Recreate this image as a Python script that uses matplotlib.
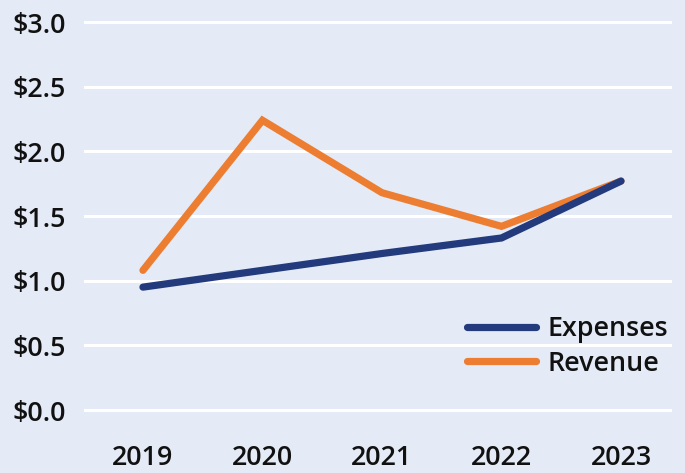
import matplotlib
matplotlib.use("Agg")
import matplotlib.pyplot as plt
from matplotlib.ticker import FuncFormatter

years = ["2019", "2020", "2021", "2022", "2023"]
expenses = [0.95, 1.08, 1.21, 1.33, 1.77]
revenue = [1.08, 2.24, 1.68, 1.42, 1.77]
yticks = [0.0, 0.5, 1.0, 1.5, 2.0, 2.5, 3.0]

BG = "#E4EBF6"
NAVY = "#233B7D"
ORANGE = "#ED7D31"
FS = 19.4

plt.rcParams["font.family"] = ["Open Sans", "DejaVu Sans"]
plt.rcParams["font.weight"] = 600

fig = plt.figure(figsize=(6.85, 4.73), dpi=100, facecolor=BG)
ax = fig.add_axes([85 / 685, 63 / 473, 585 / 685, 388 / 473], facecolor=BG)

x = list(range(len(years)))
ax.plot(x, revenue, color=ORANGE, lw=5.2, solid_capstyle="round",
        solid_joinstyle="miter", label="Revenue", zorder=3)
ax.plot(x, expenses, color=NAVY, lw=5.2, solid_capstyle="round",
        solid_joinstyle="miter", label="Expenses", zorder=4)

ax.set_xlim(-0.485, 4.41)
ax.set_ylim(0, 3)
ax.set_yticks(yticks)
ax.yaxis.set_major_formatter(FuncFormatter(lambda v, p: f"${v:.1f}"))
ax.set_xticks(x)
ax.set_xticklabels(years)
for s in ax.spines.values():
    s.set_visible(False)
ax.grid(axis="y", color="white", lw=2.2)
for gl in ax.get_ygridlines():
    gl.set_clip_on(False)
ax.set_axisbelow(True)
ax.tick_params(axis="both", length=0, labelsize=FS, labelcolor="#111111")
ax.tick_params(axis="x", pad=24.5)
ax.tick_params(axis="y", pad=13.5)

h, l = ax.get_legend_handles_labels()
leg = ax.legend([h[1], h[0]], [l[1], l[0]], loc="upper left",
                bbox_to_anchor=(467 / 685, (473 - 315) / 473),
                bbox_transform=fig.transFigure, frameon=False,
                fontsize=FS, handlelength=2.55, handletextpad=0.42,
                labelspacing=0.25, borderpad=0, borderaxespad=0)
for t in leg.get_texts():
    t.set_color("#111111")

fig.savefig("out.png", dpi=100, facecolor=BG)
